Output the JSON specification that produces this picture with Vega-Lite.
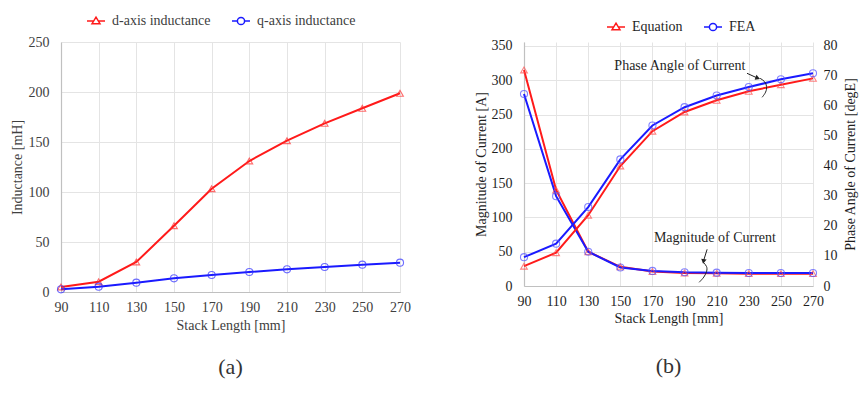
{
  "$schema": "https://vega.github.io/schema/vega-lite/v6.json",
  "padding": {"left": 10, "top": 11, "right": 8, "bottom": 5},
  "spacing": 63,
  "background": "white",
  "resolve": {"scale": {"color": "independent"}, "legend": {"color": "independent"}},
  "datasets": {
    "induct": [
      {"x": 90, "series": "d-axis inductance", "L": 5},
      {"x": 110, "series": "d-axis inductance", "L": 10.3},
      {"x": 130, "series": "d-axis inductance", "L": 30},
      {"x": 150, "series": "d-axis inductance", "L": 66.3},
      {"x": 170, "series": "d-axis inductance", "L": 103.3},
      {"x": 190, "series": "d-axis inductance", "L": 131},
      {"x": 210, "series": "d-axis inductance", "L": 151.3},
      {"x": 230, "series": "d-axis inductance", "L": 168.7},
      {"x": 250, "series": "d-axis inductance", "L": 183.7},
      {"x": 270, "series": "d-axis inductance", "L": 198.7},
      {"x": 90, "series": "q-axis inductance", "L": 2.7},
      {"x": 110, "series": "q-axis inductance", "L": 5.3},
      {"x": 130, "series": "q-axis inductance", "L": 9.3},
      {"x": 150, "series": "q-axis inductance", "L": 13.7},
      {"x": 170, "series": "q-axis inductance", "L": 17},
      {"x": 190, "series": "q-axis inductance", "L": 20},
      {"x": 210, "series": "q-axis inductance", "L": 22.7},
      {"x": 230, "series": "q-axis inductance", "L": 25},
      {"x": 250, "series": "q-axis inductance", "L": 27.3},
      {"x": 270, "series": "q-axis inductance", "L": 29.3}
    ],
    "current": [
      {"x": 90, "method": "Equation", "mag": 315, "phase": 6.6},
      {"x": 110, "method": "Equation", "mag": 140, "phase": 11.1},
      {"x": 130, "method": "Equation", "mag": 50, "phase": 23.6},
      {"x": 150, "method": "Equation", "mag": 28, "phase": 40},
      {"x": 170, "method": "Equation", "mag": 21, "phase": 51.6},
      {"x": 190, "method": "Equation", "mag": 19, "phase": 58},
      {"x": 210, "method": "Equation", "mag": 18.5, "phase": 61.9},
      {"x": 230, "method": "Equation", "mag": 18, "phase": 64.9},
      {"x": 250, "method": "Equation", "mag": 18, "phase": 67.1},
      {"x": 270, "method": "Equation", "mag": 18, "phase": 69.2},
      {"x": 90, "method": "FEA", "mag": 280, "phase": 9.6},
      {"x": 110, "method": "FEA", "mag": 131, "phase": 14.1},
      {"x": 130, "method": "FEA", "mag": 50, "phase": 26.3},
      {"x": 150, "method": "FEA", "mag": 27, "phase": 42.2},
      {"x": 170, "method": "FEA", "mag": 22, "phase": 53.5},
      {"x": 190, "method": "FEA", "mag": 20, "phase": 59.6},
      {"x": 210, "method": "FEA", "mag": 19.5, "phase": 63.5},
      {"x": 230, "method": "FEA", "mag": 19, "phase": 66.3},
      {"x": 250, "method": "FEA", "mag": 19, "phase": 68.9},
      {"x": 270, "method": "FEA", "mag": 19, "phase": 70.9}
    ],
    "magLabel": [{"x": 170.9, "mag": 70.6, "label": "Magnitude of Current"}],
    "magArrow": [{"x": 204.05, "mag": 53.5, "o": 0}, {"x": 202.0, "mag": 38.0, "o": 1}],
    "magHead": [{"x": 201.8, "mag": 35.8}],
    "magBrace": [
      {"x": 201.6, "mag": 34.6, "o": 0},
      {"x": 204.05, "mag": 28.8, "o": 1},
      {"x": 204.05, "mag": 21.6, "o": 2},
      {"x": 202.2, "mag": 12.8, "o": 3},
      {"x": 199.1, "mag": 5.4, "o": 4}
    ],
    "phaseLabel": [{"x": 227.9, "phase": 73.3, "label": "Phase Angle of Current"}],
    "phaseArrow": [{"x": 228.9, "phase": 70.9, "o": 0}, {"x": 235.0, "phase": 69.4, "o": 1}],
    "phaseHead": [{"x": 235.6, "phase": 69.3}],
    "phaseBrace": [
      {"x": 237.0, "phase": 69.23, "o": 0},
      {"x": 240.1, "phase": 68.23, "o": 1},
      {"x": 241.4, "phase": 66.57, "o": 2},
      {"x": 240.8, "phase": 64.57, "o": 3},
      {"x": 238.3, "phase": 62.9, "o": 4}
    ]
  },
  "hconcat": [
    {
      "width": 339,
      "height": 250,
      "title": {"text": "(a)", "orient": "bottom", "offset": 25},
      "data": {"name": "induct"},
      "encoding": {
        "x": {"field": "x", "type": "quantitative", "title": "Stack Length [mm]",
          "scale": {"domain": [90, 270], "nice": false, "zero": false},
          "axis": {"values": [90, 110, 130, 150, 170, 190, 210, 230, 250, 270], "labelPadding": 8, "titlePadding": 4}},
        "y": {"field": "L", "type": "quantitative", "title": "Inductance [mH]",
          "scale": {"domain": [0, 250], "nice": false},
          "axis": {"values": [0, 50, 100, 150, 200, 250], "labelPadding": 12, "titlePadding": 4}}
      },
      "layer": [
        {"mark": {"type": "line", "strokeWidth": 2},
          "encoding": {"color": {"field": "series", "type": "nominal",
            "scale": {"domain": ["d-axis inductance", "q-axis inductance"], "range": ["#ff1a1a", "#1a1aff"]},
            "legend": {"orient": "none", "legendX": 25, "legendY": -31, "direction": "horizontal", "title": null,
              "symbolType": {"expr": "datum.value === 'd-axis inductance' ? 'M-1,0H-0.3M0.3,0H1M0,-0.42L0.44,0.3L-0.44,0.3Z' : 'M-1,0H-0.4M0.4,0H1M0.4,0A0.4,0.4,0,1,1,-0.4,0A0.4,0.4,0,1,1,0.4,0'"}}}}},
        {"transform": [{"filter": "datum.series === 'd-axis inductance'"}],
          "mark": {"type": "point", "shape": "triangle-up", "filled": false, "strokeWidth": 1.1, "size": 45, "color": "#ff3030"}},
        {"transform": [{"filter": "datum.series === 'q-axis inductance'"}],
          "mark": {"type": "point", "shape": "circle", "filled": false, "strokeWidth": 1.1, "size": 50, "color": "#3030ff"}}
      ]
    },
    {
      "width": 289,
      "height": 244,
      "title": {"text": "(b)", "orient": "bottom", "offset": 31},
      "encoding": {
        "x": {"field": "x", "type": "quantitative", "title": "Stack Length [mm]",
          "scale": {"domain": [90, 270], "nice": false, "zero": false},
          "axis": {"values": [90, 110, 130, 150, 170, 190, 210, 230, 250, 270], "labelPadding": 8, "titlePadding": 3, "labelColor": "#1f1f1f", "titleColor": "#1f1f1f"}}
      },
      "layer": [
        {
          "encoding": {
            "y": {"field": "mag", "type": "quantitative", "title": "Magnitude of Current [A]",
              "scale": {"domain": [0, 355.83], "nice": false},
              "axis": {"values": [0, 50, 100, 150, 200, 250, 300, 350], "labelPadding": 12, "titlePadding": 3, "labelColor": "#1f1f1f", "titleColor": "#1f1f1f"}}
          },
          "layer": [
            {"data": {"name": "current"}, "mark": {"type": "line", "strokeWidth": 2},
              "encoding": {"color": {"field": "method", "type": "nominal",
                "scale": {"domain": ["Equation", "FEA"], "range": ["#ff1a1a", "#1a1aff"]},
                "legend": {"orient": "none", "legendX": 82, "legendY": -25, "direction": "horizontal", "title": null, "labelColor": "#1f1f1f",
                  "symbolType": {"expr": "datum.value === 'Equation' ? 'M-1,0H-0.3M0.3,0H1M0,-0.42L0.44,0.3L-0.44,0.3Z' : 'M-1,0H-0.4M0.4,0H1M0.4,0A0.4,0.4,0,1,1,-0.4,0A0.4,0.4,0,1,1,0.4,0'"}}}}},
            {"data": {"name": "current"}, "transform": [{"filter": "datum.method === 'Equation'"}],
              "mark": {"type": "point", "shape": "triangle-up", "filled": false, "strokeWidth": 1.1, "size": 45, "color": "#ff5050"}},
            {"data": {"name": "current"}, "transform": [{"filter": "datum.method === 'FEA'"}],
              "mark": {"type": "point", "shape": "circle", "filled": false, "strokeWidth": 1.1, "size": 50, "color": "#5050ff"}},
            {"data": {"name": "magLabel"}, "mark": {"type": "text", "align": "left", "baseline": "middle", "font": "Liberation Serif", "fontSize": 14, "color": "#1f1f1f"},
              "encoding": {"text": {"field": "label"}}},
            {"data": {"name": "magArrow"}, "mark": {"type": "line", "color": "#222222", "strokeWidth": 1},
              "encoding": {"order": {"field": "o"}}},
            {"data": {"name": "magHead"}, "mark": {"type": "point", "shape": "triangle-down", "filled": true, "color": "#222222", "size": 30, "angle": 10, "opacity": 1}},
            {"data": {"name": "magBrace"}, "mark": {"type": "line", "color": "#222222", "strokeWidth": 1, "interpolate": "basis"},
              "encoding": {"order": {"field": "o"}}}
          ]
        },
        {
          "encoding": {
            "y": {"field": "phase", "type": "quantitative", "title": "Phase Angle of Current [degE]",
              "scale": {"domain": [0, 81.33], "nice": false},
              "axis": {"orient": "right", "values": [0, 10, 20, 30, 40, 50, 60, 70, 80], "grid": false, "domain": false, "labelPadding": 10, "titlePadding": 6, "titleAngle": -90, "titleBaseline": "top", "labelColor": "#1f1f1f", "titleColor": "#1f1f1f"}}
          },
          "layer": [
            {"data": {"name": "current"}, "mark": {"type": "line", "strokeWidth": 2},
              "encoding": {"color": {"field": "method", "type": "nominal"}}},
            {"data": {"name": "current"}, "transform": [{"filter": "datum.method === 'Equation'"}],
              "mark": {"type": "point", "shape": "triangle-up", "filled": false, "strokeWidth": 1.1, "size": 45, "color": "#ff5050"}},
            {"data": {"name": "current"}, "transform": [{"filter": "datum.method === 'FEA'"}],
              "mark": {"type": "point", "shape": "circle", "filled": false, "strokeWidth": 1.1, "size": 50, "color": "#5050ff"}},
            {"data": {"name": "phaseLabel"}, "mark": {"type": "text", "align": "right", "baseline": "middle", "font": "Liberation Serif", "fontSize": 14, "color": "#1f1f1f"},
              "encoding": {"text": {"field": "label"}}},
            {"data": {"name": "phaseArrow"}, "mark": {"type": "line", "color": "#222222", "strokeWidth": 1},
              "encoding": {"order": {"field": "o"}}},
            {"data": {"name": "phaseHead"}, "mark": {"type": "point", "shape": "triangle-right", "filled": true, "color": "#222222", "size": 30, "angle": 20, "opacity": 1}},
            {"data": {"name": "phaseBrace"}, "mark": {"type": "line", "color": "#222222", "strokeWidth": 1, "interpolate": "basis"},
              "encoding": {"order": {"field": "o"}}}
          ]
        }
      ],
      "resolve": {"scale": {"y": "independent"}}
    }
  ],
  "config": {
    "view": {"stroke": null},
    "font": "Liberation Serif",
    "axis": {
      "labelFont": "Liberation Serif", "titleFont": "Liberation Serif",
      "labelFontSize": 14, "titleFontSize": 14, "titleFontWeight": "normal",
      "labelColor": "#404040", "titleColor": "#404040",
      "gridColor": "#e4e4e4", "domainColor": "#c0c0c0", "domainWidth": 1.2,
      "ticks": false, "tickSize": 0, "labelFlush": false
    },
    "legend": {
      "labelFont": "Liberation Serif", "labelFontSize": 14, "labelColor": "#404040",
      "symbolSize": 324, "symbolStrokeWidth": 1.5, "symbolFillColor": "white",
      "labelOffset": 6, "columnPadding": 18
    },
    "title": {"font": "Liberation Serif", "fontSize": 22, "fontWeight": "normal", "color": "#333333", "anchor": "middle"}
  }
}
